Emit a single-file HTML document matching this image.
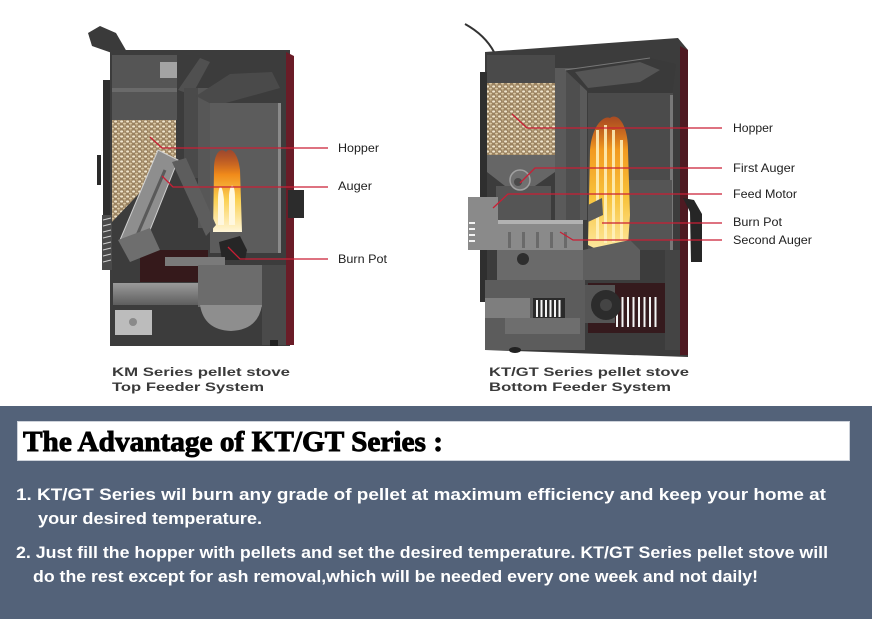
<!DOCTYPE html>
<html><head><meta charset="utf-8"><style>
html,body{margin:0;padding:0;background:#fff;}
body{width:873px;height:619px;overflow:hidden;position:relative;}
svg{display:block;}
</style></head><body>
<svg width="873" height="619" viewBox="0 0 873 619" xmlns="http://www.w3.org/2000/svg">
<defs>
 <pattern id="pel" width="6" height="5" patternUnits="userSpaceOnUse">
  <rect width="6" height="5" fill="#9a8260"/>
  <ellipse cx="1.6" cy="1.5" rx="1.5" ry="1.1" fill="#efe4cc"/>
  <ellipse cx="4.5" cy="3.6" rx="1.4" ry="1" fill="#dccaa6"/>
  <ellipse cx="4.8" cy="0.8" rx="0.8" ry="0.6" fill="#c9b38c"/>
 </pattern>
 <linearGradient id="fl1" x1="0" y1="0" x2="0" y2="1">
  <stop offset="0" stop-color="#c83a10" stop-opacity="0.6"/>
  <stop offset="0.3" stop-color="#f08a1a"/>
  <stop offset="0.6" stop-color="#fbd050"/>
  <stop offset="1" stop-color="#fff6d8"/>
 </linearGradient>
 <linearGradient id="fl2" x1="0" y1="0" x2="0" y2="1">
  <stop offset="0" stop-color="#d04a10" stop-opacity="0.7"/>
  <stop offset="0.25" stop-color="#f29a20"/>
  <stop offset="0.6" stop-color="#f8c23a"/>
  <stop offset="1" stop-color="#fde9a0"/>
 </linearGradient>
 <linearGradient id="tube" x1="0" y1="0" x2="0" y2="1">
  <stop offset="0" stop-color="#9a9a9a"/>
  <stop offset="1" stop-color="#5e5e5e"/>
 </linearGradient>
</defs>

<!-- ================= LEFT STOVE ================= -->
<polygon points="88,33 100,26 116,33 127,52 112,53 92,46" fill="#3a3a3a"/>
<rect x="103" y="80" width="8" height="175" fill="#2d2d2d"/>
<rect x="97" y="155" width="4" height="30" fill="#2a2a2a"/>
<rect x="110" y="50" width="180" height="296" fill="#3c3c3c"/>
<polygon points="286,52 294,56 294,345 286,345" fill="#6a1c27"/>
<rect x="288" y="190" width="16" height="28" fill="#2c2c2c"/>
<!-- hopper top interior -->
<rect x="112" y="55" width="65" height="65" fill="#555"/>
<rect x="112" y="88" width="65" height="4" fill="#6a6a6a"/>
<rect x="160" y="62" width="17" height="16" fill="#a3a3a3"/>
<!-- pellets -->
<polygon points="112,120 176,120 176,158 150,182 112,222" fill="url(#pel)"/>
<!-- flue pieces -->
<polygon points="178,90 200,58 210,62 192,95" fill="#505050"/>
<rect x="184" y="88" width="14" height="90" fill="#4a4a4a"/>
<rect x="198" y="88" width="12" height="140" fill="#575757"/>
<!-- chamber -->
<polygon points="196,96 230,74 272,72 280,88 215,106" fill="#4a4a4a"/>
<rect x="210" y="103" width="70" height="150" fill="#5c5c5c"/>
<rect x="278" y="103" width="3" height="150" fill="#8a8a8a"/>
<!-- flame -->
<path d="M214,170 C214,150 222,148 226,152 C230,146 238,152 240,170 L242,232 L213,232 Z" fill="url(#fl1)"/>
<path d="M218,200 C218,185 222,180 224,200 L224,225 L218,225Z" fill="#fff8e0"/>
<path d="M229,195 C230,182 235,182 235,198 L235,225 L229,225Z" fill="#fff8e0"/>
<!-- auger (diagonal) -->
<polygon points="158,150 178,160 142,250 120,240" fill="#8e8e8e" stroke="#d0d0d0" stroke-width="1"/>
<line x1="165" y1="170" x2="135" y2="240" stroke="#5a5a5a" stroke-width="3"/>
<polygon points="172,162 186,158 216,225 206,236" fill="#5d5d5d"/>
<!-- grille left -->
<rect x="102" y="215" width="10" height="55" fill="#4a4a4a"/>
<g stroke="#cfcfcf" stroke-width="1">
<line x1="103" y1="220" x2="111" y2="218"/><line x1="103" y1="226" x2="111" y2="224"/>
<line x1="103" y1="232" x2="111" y2="230"/><line x1="103" y1="238" x2="111" y2="236"/>
<line x1="103" y1="244" x2="111" y2="242"/><line x1="103" y1="250" x2="111" y2="248"/>
<line x1="103" y1="256" x2="111" y2="254"/><line x1="103" y1="262" x2="111" y2="260"/>
</g>
<!-- lower dark red -->
<rect x="140" y="250" width="68" height="32" fill="#35191b"/>
<polygon points="118,240 150,228 160,250 130,262" fill="#6e6e6e"/>
<!-- burn pot -->
<polygon points="219,242 240,236 247,250 245,260 222,260" fill="#262626"/>
<rect x="165" y="257" width="60" height="9" fill="#7a7a7a"/>
<!-- ash box -->
<rect x="198" y="265" width="66" height="42" fill="#6c6c6c"/>
<path d="M200,305 L262,305 Q258,330 231,331 Q204,330 200,305 Z" fill="#8e8e8e"/>
<rect x="113" y="283" width="85" height="22" fill="url(#tube)"/>
<rect x="115" y="310" width="37" height="25" fill="#bcbcbc"/>
<circle cx="133" cy="322" r="4" fill="#8a8a8a"/>
<rect x="262" y="265" width="24" height="80" fill="#4a4a4a"/>
<rect x="270" y="340" width="8" height="6" fill="#222"/>

<!-- ================= RIGHT STOVE ================= -->
<path d="M465,24 Q485,35 494,52" stroke="#333" stroke-width="2" fill="none"/>
<polygon points="485,52 678,38 688,50 688,357 485,350" fill="#3c3c3c"/>
<polygon points="680,46 688,50 688,355 680,355" fill="#4e1a22"/>
<rect x="480" y="72" width="7" height="230" fill="#2f2f2f"/>
<!-- hopper -->
<rect x="487" y="55" width="68" height="28" fill="#4a4a4a"/>
<rect x="487" y="83" width="68" height="72" fill="url(#pel)"/>
<polygon points="487,155 555,155 555,172 535,186 505,186 487,172" fill="#666"/>
<rect x="496" y="186" width="55" height="34" fill="#555"/>
<circle cx="520" cy="180" r="10" fill="#707070" stroke="#a0a0a0" stroke-width="1.5"/>
<circle cx="518" cy="182" r="4" fill="#4a4a4a"/>
<!-- left gray box -->
<rect x="468" y="197" width="30" height="53" fill="#8a8a8a"/>
<g fill="#f2f2f2"><rect x="469" y="222" width="6" height="2"/><rect x="469" y="228" width="6" height="2"/><rect x="469" y="234" width="6" height="2"/><rect x="469" y="240" width="6" height="2"/></g>
<!-- divider / baffle -->
<rect x="555" y="68" width="32" height="152" fill="#5a5a5a"/>
<rect x="566" y="70" width="14" height="150" fill="#4e4e4e"/>
<polygon points="565,70 650,58 676,64 672,96 620,96 588,92" fill="#3a3a3a"/>
<polygon points="575,72 640,62 660,70 640,82 588,88" fill="#555"/>
<line x1="565" y1="70" x2="650" y2="58" stroke="#777" stroke-width="1"/>
<!-- chamber -->
<rect x="588" y="93" width="85" height="157" fill="#4b4b4b"/>
<rect x="670" y="95" width="3" height="155" fill="#777"/>
<rect x="612" y="180" width="60" height="60" fill="#555"/>
<!-- flame -->
<path d="M590,150 C592,125 604,115 610,118 C618,112 628,125 628,150 L630,215 L628,245 L598,250 L588,245 Z" fill="url(#fl2)"/>
<g fill="#fff3c0" opacity="0.85">
<rect x="596" y="130" width="3" height="110"/>
<rect x="604" y="125" width="3" height="118"/>
<rect x="612" y="130" width="3" height="112"/>
<rect x="620" y="140" width="3" height="100"/>
</g>
<polygon points="588,205 602,198 603,215 588,222" fill="#5a5a5a"/>
<!-- auger tube -->
<rect x="498" y="220" width="85" height="30" fill="#8a8a8a"/>
<rect x="498" y="220" width="85" height="4" fill="#b2b2b2"/>
<g fill="#6a6a6a"><rect x="508" y="232" width="3" height="16"/><rect x="522" y="232" width="3" height="16"/><rect x="536" y="232" width="3" height="16"/><rect x="550" y="232" width="3" height="16"/><rect x="564" y="232" width="3" height="16"/></g>
<polygon points="583,250 630,240 640,250 640,280 583,280" fill="#5e5e5e"/>
<!-- lower -->
<rect x="497" y="250" width="86" height="30" fill="#6a6a6a"/>
<circle cx="523" cy="259" r="6" fill="#2e2e2e"/>
<rect x="485" y="280" width="100" height="70" fill="#5c5c5c"/>
<rect x="485" y="298" width="45" height="20" fill="#7e7e7e"/>
<rect x="505" y="318" width="75" height="16" fill="#6e6e6e"/>
<rect x="533" y="298" width="32" height="20" fill="#2a2a2a"/>
<g fill="#f4f4f4"><rect x="536" y="300" width="2" height="17"/><rect x="540.5" y="300" width="2" height="17"/><rect x="545" y="300" width="2" height="17"/><rect x="549.5" y="300" width="2" height="17"/><rect x="554" y="300" width="2" height="17"/><rect x="558.5" y="300" width="2" height="17"/></g>
<rect x="588" y="283" width="80" height="50" fill="#351a1d"/>
<g fill="#f4f4f4"><rect x="616" y="297" width="2" height="30"/><rect x="621.5" y="297" width="2" height="30"/><rect x="627" y="297" width="2" height="30"/><rect x="632.5" y="297" width="2" height="30"/><rect x="638" y="297" width="2" height="30"/><rect x="643.5" y="297" width="2" height="30"/><rect x="649" y="297" width="2" height="30"/><rect x="654.5" y="297" width="2" height="30"/></g>
<rect x="585" y="285" width="30" height="38" fill="#555"/>
<circle cx="606" cy="305" r="15" fill="#2c2c2c"/>
<circle cx="606" cy="305" r="6" fill="#444"/>
<rect x="665" y="250" width="15" height="100" fill="#444"/>
<polygon points="683,198 694,200 702,214 702,262 691,262 690,212" fill="#262626"/>
<ellipse cx="515" cy="350" rx="6" ry="3" fill="#222"/>

<!-- ================= CONNECTORS ================= -->
<g stroke="#c91f35" stroke-width="1.3" fill="none">
<polyline points="150,137 162,148 328,148"/>
<polyline points="162,176 173,187 328,187"/>
<polyline points="228,247 240,259 328,259"/>
<polyline points="512,114 527,128 722,128"/>
<polyline points="520,183 535,168 722,168"/>
<polyline points="493,208 508,194 722,194"/>
<polyline points="602,223 722,223"/>
<polyline points="560,232 573,240 722,240"/>
</g>

<!-- labels -->
<g font-family="'Liberation Sans', Arial, sans-serif" font-size="12" fill="#1e1e1e">
<text x="338" y="152" textLength="41" lengthAdjust="spacingAndGlyphs">Hopper</text>
<text x="338" y="190" textLength="34" lengthAdjust="spacingAndGlyphs">Auger</text>
<text x="338" y="263" textLength="49" lengthAdjust="spacingAndGlyphs">Burn Pot</text>
<text x="733" y="132" textLength="40" lengthAdjust="spacingAndGlyphs">Hopper</text>
<text x="733" y="172" textLength="62" lengthAdjust="spacingAndGlyphs">First Auger</text>
<text x="733" y="198" textLength="64" lengthAdjust="spacingAndGlyphs">Feed Motor</text>
<text x="733" y="226" textLength="49" lengthAdjust="spacingAndGlyphs">Burn Pot</text>
<text x="733" y="244" textLength="79" lengthAdjust="spacingAndGlyphs">Second Auger</text>
</g>

<!-- captions -->
<g font-family="'Liberation Sans', Arial, sans-serif" font-size="12" font-weight="bold" fill="#3a3a3a">
<text x="112" y="376" textLength="178" lengthAdjust="spacingAndGlyphs">KM Series pellet stove</text>
<text x="112" y="391" textLength="152" lengthAdjust="spacingAndGlyphs">Top Feeder System</text>
<text x="489" y="376" textLength="200" lengthAdjust="spacingAndGlyphs">KT/GT Series pellet stove</text>
<text x="489" y="391" textLength="182" lengthAdjust="spacingAndGlyphs">Bottom Feeder System</text>
</g>

<!-- ================= BOTTOM PANEL ================= -->
<rect x="0" y="406" width="872" height="213" fill="#536279"/>
<rect x="17.5" y="421.5" width="832" height="39" fill="#ffffff" stroke="#cdd2da" stroke-width="1"/>
<text x="23" y="451" font-family="'Liberation Serif', serif" font-size="29" font-weight="bold" fill="#000" stroke="#000" stroke-width="0.9" textLength="420" lengthAdjust="spacingAndGlyphs">The Advantage of KT/GT Series :</text>

<g font-family="'Liberation Sans', Arial, sans-serif" font-size="17" font-weight="bold" fill="#ffffff">
<text x="16" y="500" textLength="810" lengthAdjust="spacingAndGlyphs">1. KT/GT Series wil burn any grade of pellet at maximum efficiency and keep your home at</text>
<text x="38" y="524" textLength="224" lengthAdjust="spacingAndGlyphs">your desired temperature.</text>
<text x="16" y="558" textLength="812" lengthAdjust="spacingAndGlyphs">2. Just fill the hopper with pellets and set the desired temperature. KT/GT Series pellet stove will</text>
<text x="33" y="582" textLength="725" lengthAdjust="spacingAndGlyphs">do the rest except for ash removal,which will be needed every one week and not daily!</text>
</g>
</svg>
</body></html>
